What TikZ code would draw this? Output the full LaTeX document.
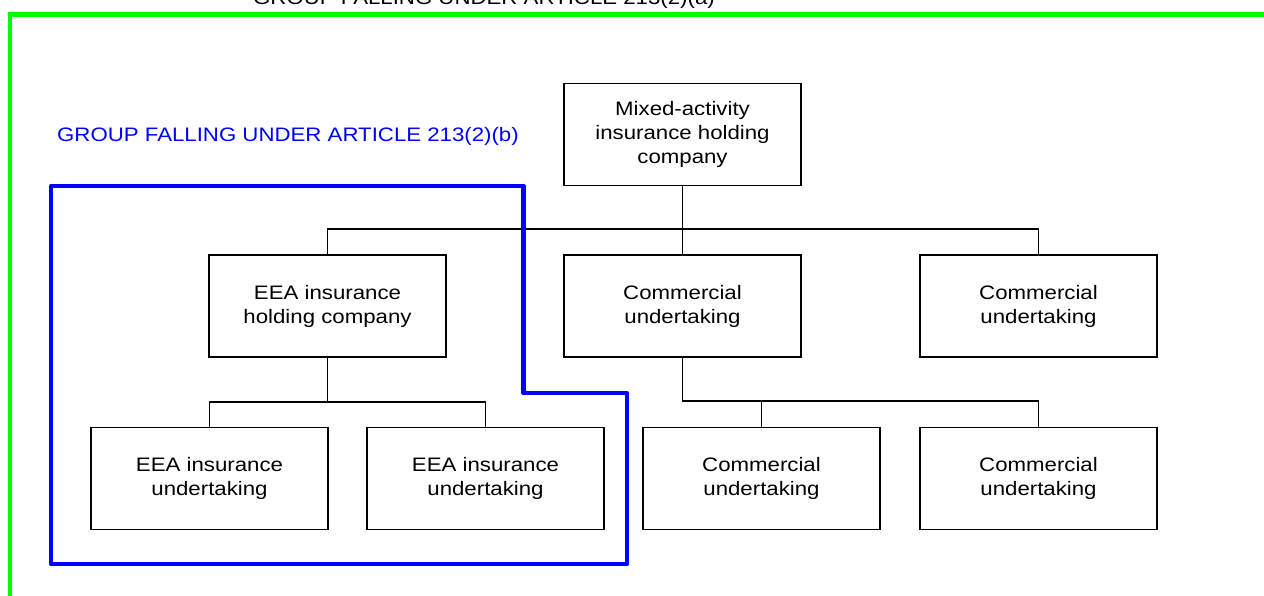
\documentclass[tikz,border=0pt]{standalone}
\usepackage{fontspec}
\setmainfont{Liberation Sans}[FakeStretch=1.14]
\definecolor{grn}{RGB}{0,255,0}
\definecolor{blu}{RGB}{0,0,255}
\begin{document}
\begin{tikzpicture}[x=1pt,y=-1pt,
  box/.style={draw=black, line width=1.5pt, minimum width=237pt, minimum height=102pt, inner sep=0pt, align=center, font=\fontsize{19.5}{24}\selectfont},
  conn/.style={draw=black, line width=1.5pt},
  lbl/.style={inner sep=0pt, font=\fontsize{19.5}{24}\selectfont},
  grnline/.style={draw=grn, line width=4.5pt},
  bluline/.style={draw=blu, line width=4.5pt, line join=round}]
\useasboundingbox (0,0) rectangle (1264,595);
\clip (0,0) rectangle (1264,595);
\fill[white] (0,0) rectangle (1264,595);
% green group outline
\draw[grnline] (10,600) -- (10,14.5) -- (1270,14.5);
\node[lbl, anchor=base] (ta) at (484,4.5) {GROUP FALLING UNDER ARTICLE 213(2)(a)};
% blue label
\node[lbl, anchor=base west, text=blu] (tb) at (57,141) {GROUP FALLING UNDER ARTICLE 213(2)(b)};
% boxes
\node[box] (mixed) at (682.5,134.5) {Mixed-activity\\insurance holding\\company};
\node[box] (eeah) at (327.5,306) {EEA insurance\\holding company};
\node[box] (com1) at (682.5,306) {Commercial\\undertaking};
\node[box] (com2) at (1038.5,306) {Commercial\\undertaking};
\node[box] (eea1) at (209.5,478.5) {EEA insurance\\undertaking};
\node[box] (eea2) at (485.5,478.5) {EEA insurance\\undertaking};
\node[box] (com3) at (761.5,478.5) {Commercial\\undertaking};
\node[box] (com4) at (1038.5,478.5) {Commercial\\undertaking};
% connectors
\coordinate (bus1) at (682.5,229);
\coordinate (bus2) at (327.5,402);
\coordinate (bus3) at (682.5,401);
\draw[conn] (mixed.south) -- (com1.north);
\draw[conn] (eeah.north) |- (bus1) -| (com2.north);
\draw[conn] (eeah.south) -- (bus2);
\draw[conn] (eea1.north) |- (bus2) -| (eea2.north);
\draw[conn] (com1.south) -- (bus3) -| (com4.north);
\draw[conn] (com3.north) -- (com3.north |- bus3);
% blue group outline
\draw[bluline] (51,186) -- (523.5,186) -- (523.5,393) -- (627,393) -- (627,564) -- (51,564) -- cycle;
\end{tikzpicture}
\end{document}
